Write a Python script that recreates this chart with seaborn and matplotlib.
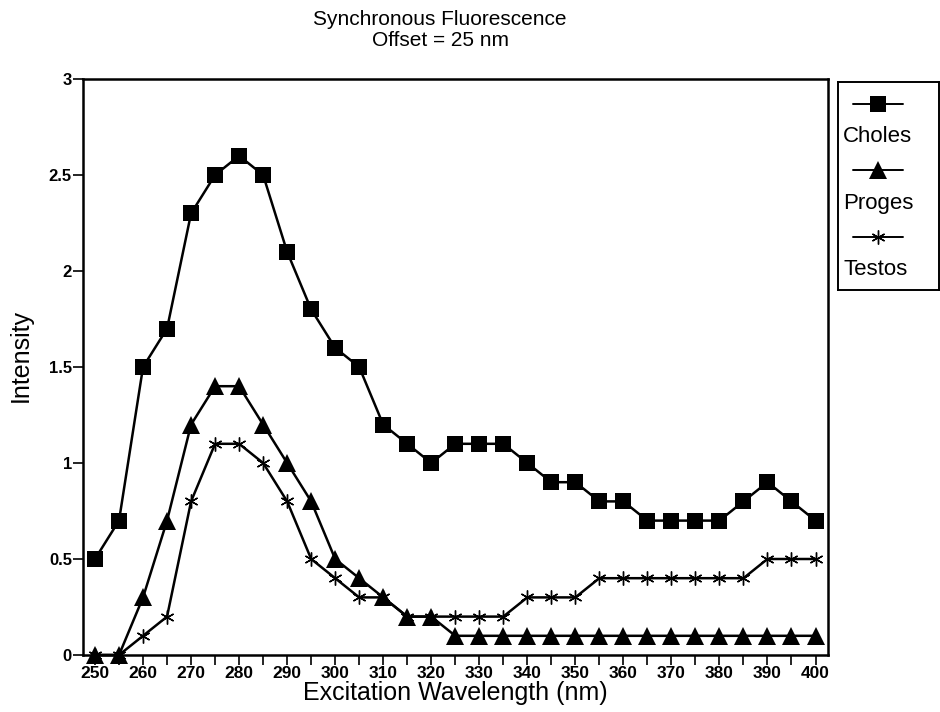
import matplotlib
matplotlib.use("Agg")
import matplotlib.pyplot as plt
import seaborn as sns
import numpy as np
import pandas as pd

wavelength = [250, 255, 260, 265, 270, 275, 280, 285, 290, 295, 300, 305, 310, 315, 320,
              325, 330, 335, 340, 345, 350, 355, 360, 365, 370, 375, 380, 385, 390, 395, 400]
choles = [0.5, 0.7, 1.5, 1.7, 2.3, 2.5, 2.6, 2.5, 2.1, 1.8, 1.6, 1.5, 1.2, 1.1, 1.0,
          1.1, 1.1, 1.1, 1.0, 0.9, 0.9, 0.8, 0.8, 0.7, 0.7, 0.7, 0.7, 0.8, 0.9, 0.8, 0.7]
proges = [0.0, 0.0, 0.3, 0.7, 1.2, 1.4, 1.4, 1.2, 1.0, 0.8, 0.5, 0.4, 0.3, 0.2, 0.2,
          0.1, 0.1, 0.1, 0.1, 0.1, 0.1, 0.1, 0.1, 0.1, 0.1, 0.1, 0.1, 0.1, 0.1, 0.1, 0.1]
testos = [0.0, 0.0, 0.1, 0.2, 0.8, 1.1, 1.1, 1.0, 0.8, 0.5, 0.4, 0.3, 0.3, 0.2, 0.2,
          0.2, 0.2, 0.2, 0.3, 0.3, 0.3, 0.4, 0.4, 0.4, 0.4, 0.4, 0.4, 0.4, 0.5, 0.5, 0.5]
series_names = ["Choles", "Proges", "Testos"]
x_ticklabels = list(range(250, 401, 10))
y_ticks = [0, 0.5, 1, 1.5, 2, 2.5, 3]
y_ticklabels = ["0", "0.5", "1", "1.5", "2", "2.5", "3"]

sns.set_style("ticks")
plt.rcParams['font.family'] = ['Liberation Sans', 'DejaVu Sans']
plt.rcParams['text.color'] = 'black'
plt.rcParams['axes.labelcolor'] = 'black'
plt.rcParams['xtick.color'] = 'black'
plt.rcParams['ytick.color'] = 'black'

fig = plt.figure(figsize=(9.4, 7.12), dpi=100)
ax = fig.add_axes([83/940, 1-655/712, (828-83)/940, (655-79)/712])

styles = [
    dict(marker='s', markersize=11, mew=0),
    dict(marker='^', markersize=12.5, mew=0),
    dict(marker=(6, 2, 0), markersize=10, mew=1.0),
]
for name, vals, st in zip(series_names, [choles, proges, testos], styles):
    sns.lineplot(x=wavelength, y=vals, ax=ax, color='black', linewidth=1.8,
                 markeredgecolor='black', markerfacecolor='black', clip_on=False, **st)

ax.set_xlim(247.5, 402.6)
ax.set_ylim(0, 3)
ax.set_xticks(wavelength)
ax.set_xticklabels([str(w) if w in x_ticklabels else "" for w in wavelength],
                   fontsize=12.5, fontweight='bold')
ax.set_yticks(y_ticks)
ax.set_yticklabels(y_ticklabels, fontsize=12, fontweight='bold')
ax.tick_params(axis='both', direction='out', length=7, width=1.2, colors='black', pad=1)
for sp in ax.spines.values():
    sp.set_linewidth(1.8)
    sp.set_color('black')
    sp.set_visible(True)

ax.set_xlabel("Excitation Wavelength (nm)", fontsize=18, labelpad=0, color='black')
ax.set_ylabel("Intensity", fontsize=18, color='black')
ax.yaxis.set_label_coords(-0.068, 0.52)
fig.text(440/940, 1-30/712, "Synchronous Fluorescence\nOffset = 25 nm",
         ha='center', va='center', fontsize=15, linespacing=1.15, color='black')

# legend box
lax = fig.add_axes([838/940, 1-290/712, 101/940, 208/712])
lax.set_xlim(0, 1)
lax.set_ylim(1, 0)
lax.set_xticks([])
lax.set_yticks([])
for sp in lax.spines.values():
    sp.set_linewidth(1.4)
    sp.set_color('black')
line_y = [0.106, 0.423, 0.745]
text_y = [0.262, 0.585, 0.9]
for name, st, ly, ty in zip(series_names, styles, line_y, text_y):
    lax.plot([0.15, 0.64], [ly, ly], color='black', linewidth=1.4)
    lax.plot([0.395], [ly], color='black', linestyle='none', markerfacecolor='black',
             markeredgecolor='black', **st)
    lax.text(0.05, ty, name, fontsize=16, ha='left', va='center', color='black')

fig.savefig("out.png", dpi=100)
